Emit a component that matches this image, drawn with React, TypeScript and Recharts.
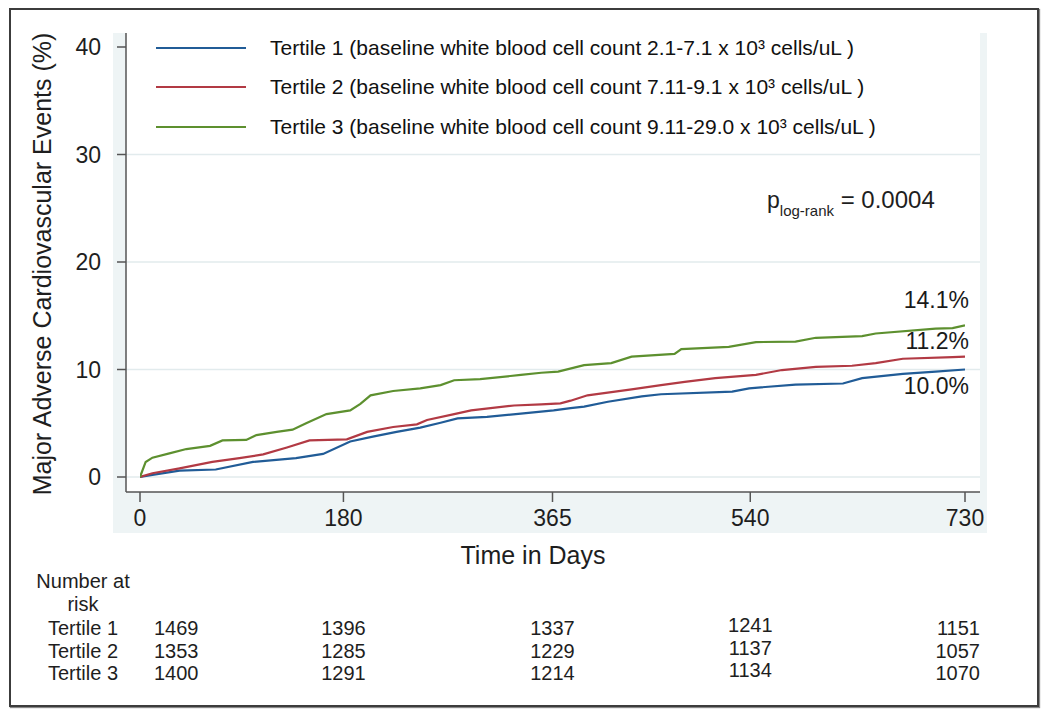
import { Legend, Line, LineChart, ReferenceLine, XAxis, YAxis } from "recharts";

const FONT = '"Liberation Sans", Arial, Helvetica, sans-serif';

// Kaplan-Meier cumulative MACE (%), by day
const tertile1Days = [0, 11, 35, 67, 100, 138, 162, 186, 206, 227, 248, 266, 281, 307, 337, 366, 381, 393, 414, 444, 461, 524, 539, 580, 622, 639, 675, 704, 730];
const tertile1Events = [0, 0.2, 0.6, 0.7, 1.4, 1.75, 2.15, 3.3, 3.75, 4.2, 4.6, 5.05, 5.45, 5.6, 5.9, 6.2, 6.4, 6.55, 7.0, 7.5, 7.7, 7.95, 8.25, 8.6, 8.7, 9.2, 9.6, 9.8, 10.0];

const tertile2Days = [0, 11, 35, 64, 88, 109, 130, 150, 183, 201, 224, 245, 254, 278, 293, 331, 355, 372, 381, 396, 435, 461, 482, 509, 545, 568, 598, 630, 651, 675, 719, 730];
const tertile2Events = [0, 0.35, 0.8, 1.4, 1.75, 2.1, 2.75, 3.4, 3.5, 4.2, 4.65, 4.9, 5.3, 5.85, 6.2, 6.65, 6.75, 6.85, 7.1, 7.6, 8.15, 8.55, 8.85, 9.2, 9.5, 9.95, 10.25, 10.35, 10.6, 11.0, 11.15, 11.2];

const tertile3Days = [0, 5, 11, 26, 41, 62, 73, 94, 103, 121, 135, 147, 165, 186, 195, 204, 224, 248, 266, 278, 301, 337, 355, 370, 393, 417, 435, 473, 479, 521, 545, 580, 598, 639, 651, 704, 719, 730];
const tertile3Events = [0, 1.4, 1.8, 2.2, 2.6, 2.9, 3.4, 3.45, 3.9, 4.2, 4.4, 5.0, 5.85, 6.2, 6.8, 7.6, 8.0, 8.25, 8.55, 9.0, 9.1, 9.5, 9.7, 9.8, 10.4, 10.6, 11.2, 11.45, 11.9, 12.1, 12.55, 12.6, 12.95, 13.1, 13.35, 13.8, 13.85, 14.1];

const seriesNames = [
  "Tertile 1 (baseline white blood cell count 2.1-7.1 x 10\u00b3 cells/uL )",
  "Tertile 2 (baseline white blood cell count 7.11-9.1 x 10\u00b3 cells/uL )",
  "Tertile 3 (baseline white blood cell count 9.11-29.0 x 10\u00b3 cells/uL )",
];
const endLabels = ["10.0%", "11.2%", "14.1%"];

const xTicks = [0, 180, 365, 540, 730];
const yTicks = [0, 10, 20, 30, 40];
const gridValues = [0, 10, 20, 30];

const riskRowLabels = ["Tertile 1", "Tertile 2", "Tertile 3"];
const riskTertile1 = [1469, 1396, 1337, 1241, 1151];
const riskTertile2 = [1353, 1285, 1229, 1137, 1057];
const riskTertile3 = [1400, 1291, 1214, 1134, 1070];

const pValue = "0.0004";

const colors = ["#215c97", "#b23a44", "#5d902f"];
const endLabelDy = [24, -8, -17];

// layout: plot region 126..980 x 33..492, day 0 at 140 and day 730 at 965
const PLOT_LEFT = 126;
const PLOT_RIGHT = 980;
const PAD_LEFT = 14;
const PAD_RIGHT = 15;
const dayToX = (d: number) =>
  PLOT_LEFT + PAD_LEFT + (d / 730) * (PLOT_RIGHT - PLOT_LEFT - PAD_LEFT - PAD_RIGHT);

const toPoints = (days: number[], vals: number[]) =>
  days.map((day, i) => ({ day, pct: vals[i] }));

const seriesData = [
  toPoints(tertile1Days, tertile1Events),
  toPoints(tertile2Days, tertile2Events),
  toPoints(tertile3Days, tertile3Events),
];

function KmLegend({ payload }: any) {
  return (
    <div style={{ fontFamily: FONT }}>
      {(payload ?? []).map((e: any) => (
        <div key={e.value} style={{ display: "flex", alignItems: "center", height: 39.5 }}>
          <svg width={90} height={4} style={{ display: "block" }}>
            <line x1={0} y1={2} x2={90} y2={2} stroke={e.color} strokeWidth={2} />
          </svg>
          <span style={{ marginLeft: 24, fontSize: 21, color: "#111", whiteSpace: "nowrap" }}>
            {e.value}
          </span>
        </div>
      ))}
    </div>
  );
}

function endLabel(series: number) {
  const last = seriesData[series].length - 1;
  return (props: any) => {
    if (props.index !== last) return null;
    return (
      <text
        key={`end-${series}`}
        x={props.x + 4}
        y={props.y + endLabelDy[series]}
        textAnchor="end"
        fontSize={23}
        fill="#1a1a1a"
        fontFamily={FONT}
      >
        {endLabels[series]}
      </text>
    );
  };
}

export default function App() {
  const riskRows = [riskTertile1, riskTertile2, riskTertile3];
  return (
    <div style={{ position: "absolute", left: 0, top: 0, width: 1050, height: 715, background: "#fff", fontFamily: FONT }}>
      <div style={{ position: "absolute", left: 9, top: 8, width: 1026, height: 695, border: "2px solid #3c3c3c", boxShadow: "1px 1px 1px #888" }} />
      <div style={{ position: "absolute", left: 113, top: 33, width: 874, height: 500, background: "#eef4f5" }} />
      <div style={{ position: "absolute", left: PLOT_LEFT, top: 33, width: PLOT_RIGHT - PLOT_LEFT, height: 459, background: "#fff" }} />

      <div style={{ position: "absolute", left: 0, top: 0 }}>
        <LineChart
          width={1050}
          height={715}
          margin={{ top: 33, right: 70, left: 66, bottom: 183 }}
          style={{ fontFamily: FONT }}
        >
          {gridValues.map((v) => (
            <ReferenceLine key={v} y={v} stroke="#e2ebed" strokeWidth={1.5} />
          ))}
          <XAxis
            dataKey="day"
            type="number"
            domain={[0, 730]}
            ticks={xTicks}
            padding={{ left: PAD_LEFT, right: PAD_RIGHT }}
            height={40}
            tickSize={10}
            tickMargin={8}
            stroke="#555"
            strokeWidth={1.5}
            tick={{ fontSize: 23, fill: "#1e1e1e" }}
            allowDataOverflow
          />
          <YAxis
            type="number"
            domain={[0, 40]}
            ticks={yTicks}
            padding={{ top: 14, bottom: 15 }}
            width={60}
            tickSize={9}
            tickMargin={16}
            stroke="#555"
            strokeWidth={1.5}
            tick={{ fontSize: 23, fill: "#1e1e1e" }}
          />
          <Legend
            layout="vertical"
            align="center"
            verticalAlign="middle"
            wrapperStyle={{ left: 156, top: 28, width: 800, height: 120 }}
            content={<KmLegend />}
          />
          {seriesData.map((data, i) => (
            <Line
              key={seriesNames[i]}
              data={data}
              dataKey="pct"
              name={seriesNames[i]}
              type="linear"
              stroke={colors[i]}
              strokeWidth={2.2}
              dot={false}
              activeDot={false}
              isAnimationActive={false}
              label={endLabel(i)}
            />
          ))}
        </LineChart>
      </div>

      <svg width={1050} height={715} style={{ position: "absolute", left: 0, top: 0, pointerEvents: "none" }}>
        <text transform="translate(51,264) rotate(-90)" textAnchor="middle" fontSize={25} fill="#1e1e1e">
          Major Adverse Cardiovascular Events (%)
        </text>
        <text x={533} y={564} textAnchor="middle" fontSize={25} fill="#1e1e1e">
          Time in Days
        </text>
        <text x={767} y={208} fontSize={23} fill="#1e1e1e">
          p
          <tspan fontSize={15} dy={8}>log-rank</tspan>
          <tspan fontSize={24} dy={-8}>{` = ${pValue}`}</tspan>
        </text>

        <text x={83} y={588} textAnchor="middle" fontSize={20} fill="#1e1e1e">Number at</text>
        <text x={83} y={611} textAnchor="middle" fontSize={20} fill="#1e1e1e">risk</text>
        {riskRowLabels.map((lab, r) => (
          <g key={lab}>
            <text x={83} y={635 + r * 22.5} textAnchor="middle" fontSize={20} fill="#1e1e1e">{lab}</text>
            {riskRows[r].map((n, c) => {
              const first = c === 0;
              const last = c === xTicks.length - 1;
              const x = first ? dayToX(xTicks[c]) + 14 : last ? PLOT_RIGHT : dayToX(xTicks[c]);
              return (
                <text
                  key={c}
                  x={x}
                  y={635 + r * 22.5 + (c === 3 ? -3 : 0)}
                  textAnchor={first ? "start" : last ? "end" : "middle"}
                  fontSize={20}
                  fill="#1e1e1e"
                >
                  {n}
                </text>
              );
            })}
          </g>
        ))}
      </svg>
    </div>
  );
}
